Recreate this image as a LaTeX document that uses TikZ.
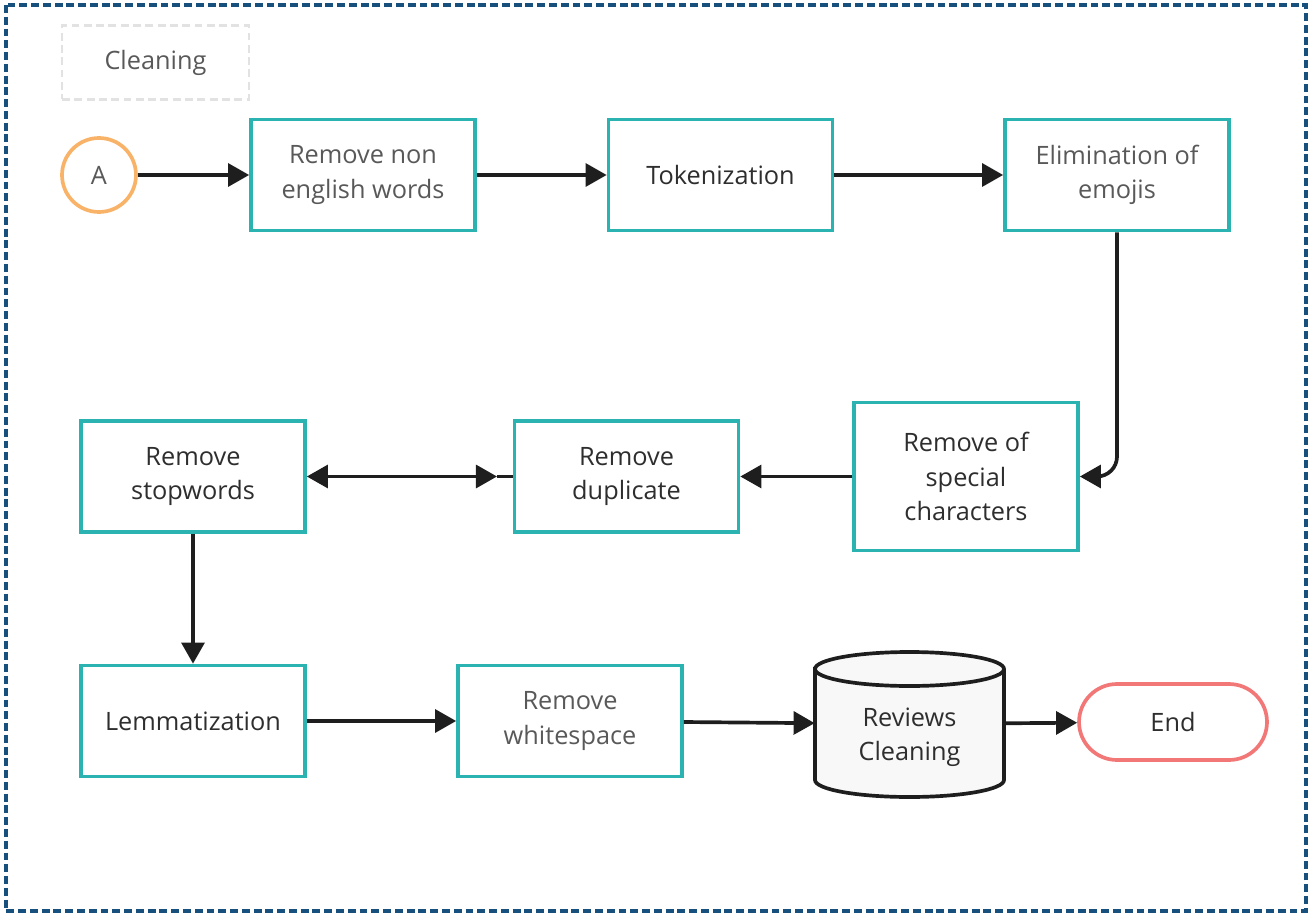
\documentclass[tikz,border=0pt]{standalone}
\usepackage{fontspec}
\setmainfont{Open Sans}
\usetikzlibrary{arrows.meta,shapes.misc,calc}
\definecolor{teal1}{HTML}{2AB3B1}
\definecolor{frameblue}{HTML}{17507D}
\definecolor{lightg}{HTML}{E2E2E2}
\definecolor{orng}{HTML}{F9B368}
\definecolor{redl}{HTML}{F27878}
\definecolor{txtd}{HTML}{2E2E2E}
\definecolor{txtg}{HTML}{595959}
\definecolor{arr}{HTML}{1E1E1E}
\definecolor{cylf}{HTML}{F8F8F8}
\tikzset{
  lbl/.style={font=\fontsize{14.4}{19.6}\selectfont, align=center, text=txtd},
  proc/.style={lbl, draw=teal1, line width=2.1pt, fill=white, minimum width=4.48cm, minimum height=2.22cm, inner sep=0pt},
  tip/.tip={Triangle[length=12pt,width=13pt]},
  conn/.style={draw=arr, line width=2.1pt, -tip},
}
\begin{document}
\begin{tikzpicture}[x=0.02cm,y=-0.02cm]
\useasboundingbox (0,0) rectangle (1310,915);
% outer frame
\draw[frameblue, line width=2pt, dash pattern=on 4.5pt off 2.2pt] (6,5) rectangle (1306,911);
% title
\node[lbl, text=txtg, draw=lightg, line width=1.6pt, dash pattern=on 4.5pt off 2.5pt, minimum width=3.74cm, minimum height=1.48cm] (title) at (155.5,62.5) {Cleaning};
% start
\node[lbl, text=txtg, circle, draw=orng, line width=2.1pt, minimum size=1.48cm, inner sep=0pt] (A) at (99,175) {A};
% processes
\node[proc, text=txtg] (p1) at (363,175) {Remove non\\english words};
\node[proc] (p2) at (720.5,175) {Tokenization};
\node[proc, text=txtg] (p3) at (1117,175) {Elimination of\\emojis};
\node[proc, minimum height=2.96cm] (p4) at (966,476.5) {Remove of\\special\\characters};
\node[proc] (p5) at (626.5,476.5) {Remove\\duplicate};
\node[proc] (p6) at (193,476.5) {Remove\\stopwords};
\node[proc] (p7) at (193,721) {Lemmatization};
\node[proc, text=txtg] (p8) at (570,721) {Remove\\whitespace};
% cylinder
\node[minimum width=3.78cm, minimum height=2.9cm, inner sep=0pt] (db) at (909.5,724) {};
\draw[arr, line width=2.1pt, fill=cylf] (815,669) -- (815,780) arc[start angle=180, end angle=360, x radius=94.5, y radius=-17] -- (1004,669) arc[start angle=0, end angle=180, x radius=94.5, y radius=-17] -- cycle;
\draw[arr, line width=2.1pt] (815,669) arc[start angle=180, end angle=360, x radius=94.5, y radius=-17];
\node[lbl] (dbt) at (909.5,737) {Reviews\\Cleaning};
% end
\node[lbl, rounded rectangle, draw=redl, line width=2.1pt, minimum width=3.76cm, minimum height=1.52cm, inner sep=0pt] (end) at (1173,722) {End};
% connectors
\draw[conn] (A) -- (p1);
\draw[conn] (p1) -- (p2);
\draw[conn] (p2) -- (p3);
\draw[conn, rounded corners=0.4cm] (p3.south) |- (p4.east);
\draw[conn] (p4) -- (p5);
\coordinate (dj) at (497,476.5);
\draw[conn, tip-tip] (p6.east) -- (dj);
\draw[arr, line width=2.1pt] (dj) -- (p5.west);
\draw[conn] (p6) -- (p7);
\draw[conn] (p7) -- (p8);
\draw[conn] (p8) -- (db);
\draw[conn] (db) -- (end);
\end{tikzpicture}
\end{document}
